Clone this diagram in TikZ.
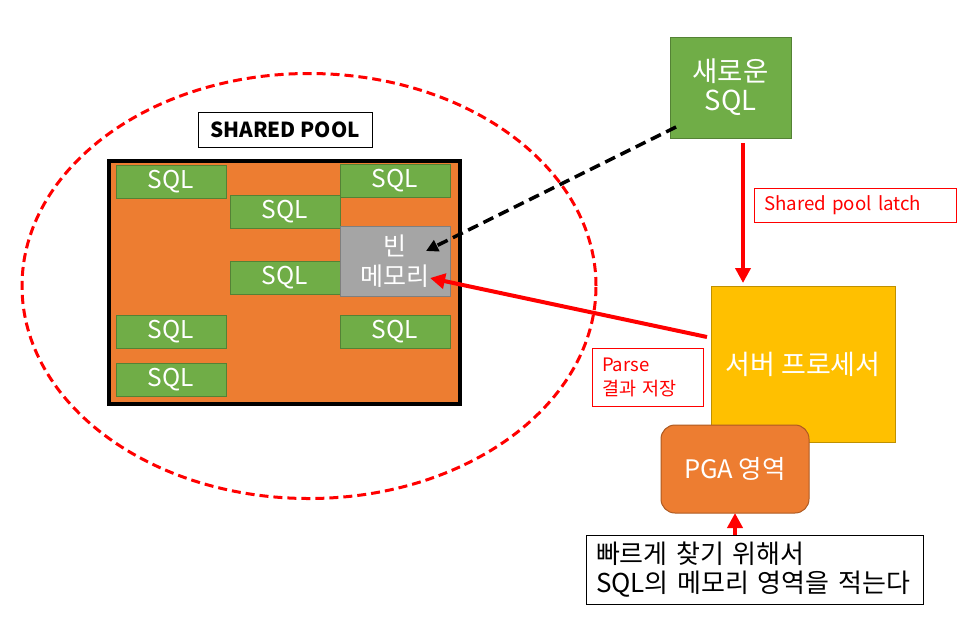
\documentclass[tikz,border=0pt]{standalone}
\usepackage{fontspec}
\setmainfont{Noto Sans CJK KR}
\usetikzlibrary{arrows.meta,calc,shapes.geometric}
\definecolor{sqlgreen}{HTML}{70AD47}
\definecolor{sqlgreenline}{HTML}{548235}
\definecolor{poolorange}{HTML}{ED7D31}
\definecolor{pgaline}{HTML}{AE5A21}
\definecolor{emptygray}{HTML}{A5A5A5}
\definecolor{emptyline}{HTML}{7F7F7F}
\definecolor{srvyellow}{HTML}{FFC000}
\definecolor{srvline}{HTML}{BF9000}
\definecolor{arrred}{HTML}{FF0000}
\tikzset{
  box/.style={anchor=north west,inner sep=0pt,outer sep=0pt},
  sqlbox/.style={box,fill=sqlgreen,draw=sqlgreenline,line width=1pt,minimum width=110pt,minimum height=33pt,text=white,font=\fontsize{24.5}{28}\selectfont},
  redarrow/.style={draw=arrred,line width=4pt,-{Triangle[width=15pt,length=15pt]}},
  redlabel/.style={box,draw=arrred,fill=white,line width=1pt,text=arrred,align=left}
}
\begin{document}
\begin{tikzpicture}[x=1pt,y=-1pt]
\useasboundingbox[fill=white] (0,0) rectangle (965,625);
% ellipse
\node[ellipse,draw=arrred,line width=3pt,dash pattern=on 9pt off 5pt,minimum width=574pt,minimum height=425pt,inner sep=0pt] (pool) at (309,286) {};
% shared pool label
\node[box,draw=black,line width=1pt,minimum width=174pt,minimum height=35pt,font=\bfseries\fontsize{20.7}{24}\selectfont] (label) at (198,112) {SHARED POOL};
% orange area
\node[box,fill=poolorange,draw=black,line width=3.5pt,minimum width=351pt,minimum height=243pt] (area) at (109,161) {};
% sql boxes
\node[sqlbox] (s1) at (116,165) {SQL};
\node[sqlbox] (s2) at (230,195) {SQL};
\node[sqlbox] (s3) at (340,164) {SQL};
\node[sqlbox] (s5) at (230,261) {SQL};
\node[sqlbox] (s6) at (116,315) {SQL};
\node[sqlbox] (s7) at (340,315) {SQL};
\node[sqlbox] (s8) at (116,363) {SQL};
\node[box,fill=emptygray,draw=emptyline,line width=1pt,minimum width=110pt,minimum height=70pt,text=white,align=center,font=\fontsize{25}{30}\selectfont] (empty) at (340,226) {빈\\메모리};
% new sql
\node[box,fill=sqlgreen,draw=sqlgreenline,line width=1pt,minimum width=121pt,minimum height=101pt,text=white,align=center,font=\fontsize{27.5}{29}\selectfont] (new) at (670,37) {새로운\\SQL};
% shared pool latch
\node[redlabel,minimum width=202pt,minimum height=34pt,inner xsep=10pt,text width=182pt,font=\fontsize{18.7}{22}\selectfont] (latch) at (754,188) {Shared pool latch};
% server process
\node[box,fill=srvyellow,draw=srvline,line width=1pt,minimum width=184pt,minimum height=156pt,text=white,font=\fontsize{27}{30}\selectfont] (srv) at (711,286) {서버 프로세서};
% parse label
\node[redlabel,minimum width=111pt,minimum height=58pt,inner xsep=10pt,font=\fontsize{18.5}{24}\selectfont,text width=91pt] (parse) at (592,348) {Parse\\결과 저장};
% PGA
\node[box,fill=poolorange,draw=pgaline,line width=1pt,rounded corners=14pt,minimum width=148pt,minimum height=88pt,text=white,font=\fontsize{25.5}{28}\selectfont] (pga) at (661,425) {PGA 영역};
% note
\node[box,fill=white,draw=black,line width=1pt,minimum width=337pt,minimum height=69pt,inner xsep=10pt,text width=317pt,align=left,font=\fontsize{26}{28.5}\selectfont] (note) at (586,535) {빠르게 찾기 위해서\\SQL의 메모리 영역을 적는다};
% connectors
\draw[black,line width=3.5pt,dash pattern=on 11pt off 6pt,-{Triangle[width=12pt,length=12pt]}] ($(new.south west)+(6,-11)$) -- ($(empty.east)+(-24,-10)$);
\draw[redarrow] ($(srv.west)+(-4,-27)$) -- ($(empty.east)+(-20,17)$);
\draw[redarrow] ($(new.south)+(12.5,5)$) -- ($(srv.north)+(-60,-3)$);
\draw[redarrow] (pga.south |- note.north) -- (pga.south);
\end{tikzpicture}
\end{document}
